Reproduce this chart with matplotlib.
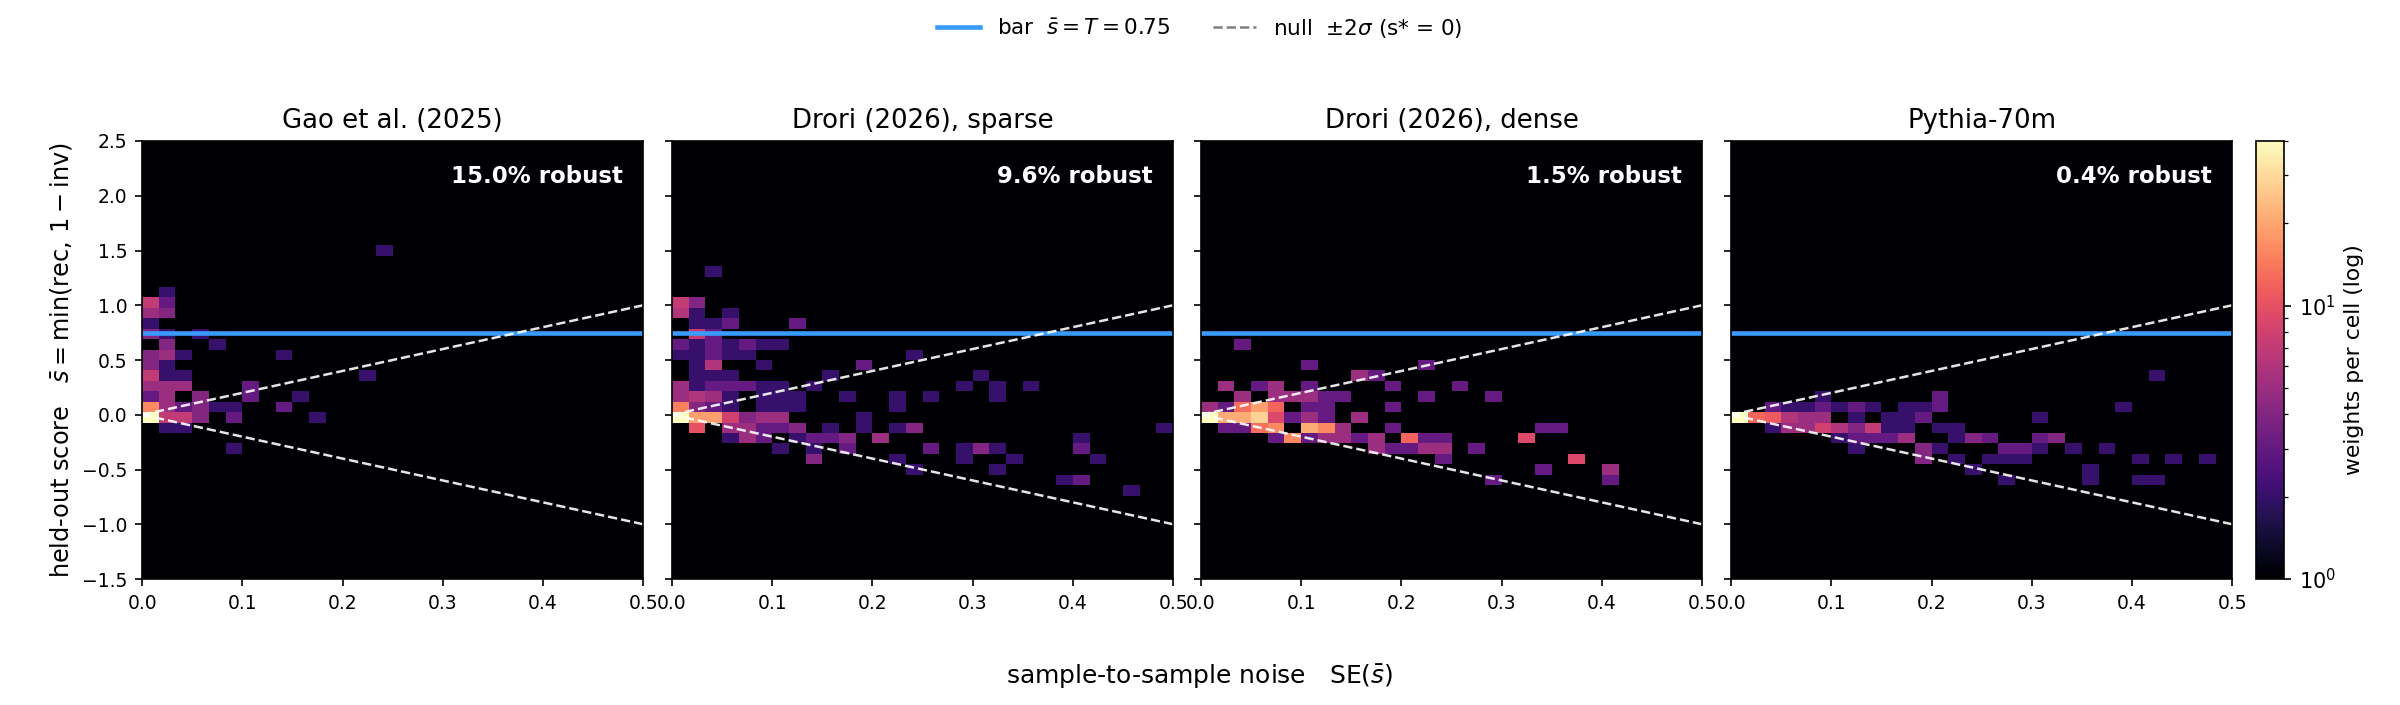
import numpy as np
import matplotlib
matplotlib.use("Agg")
import matplotlib.pyplot as plt
from matplotlib.colors import LogNorm
from matplotlib.lines import Line2D

# panel titles and robust fractions
titles = ["Gao et al. (2025)", "Drori (2026), sparse", "Drori (2026), dense", "Pythia-70m"]
robust_pct = [15.0, 9.6, 1.5, 0.4]

bar_T = 0.75

# one entry per occupied histogram cell: (SE, held-out score, number of weights)
gao_se = [0.242, 0.025, 0.008, 0.025, 0.008, 0.025, 0.008,
          0.008, 0.025, 0.058, 0.025, 0.075,
          0.008, 0.025, 0.042, 0.142, 0.008, 0.025,
          0.008, 0.025, 0.042, 0.225,
          0.008, 0.025, 0.042, 0.108,
          0.008, 0.025, 0.058, 0.108, 0.158,
          0.008, 0.025, 0.042, 0.058, 0.075, 0.092, 0.142,
          0.008, 0.025, 0.042, 0.058, 0.092, 0.175,
          0.025, 0.042, 0.092]
gao_score = [1.50, 1.12, 1.02, 1.02, 0.93, 0.93, 0.83,
             0.74, 0.74, 0.74, 0.64, 0.64,
             0.55, 0.55, 0.55, 0.55, 0.45, 0.45,
             0.36, 0.36, 0.36, 0.36,
             0.26, 0.26, 0.26, 0.26,
             0.17, 0.17, 0.17, 0.17, 0.17,
             0.07, 0.07, 0.07, 0.07, 0.07, 0.07, 0.07,
             -0.02, -0.02, -0.02, -0.02, -0.02, -0.02,
             -0.12, -0.12, -0.31]
gao_n = [2, 2, 7, 3, 5, 4, 2,
         4, 2, 2, 4, 2,
         4, 5, 2, 2, 4, 2,
         7, 2, 2, 2,
         5, 5, 5, 3,
         3, 5, 4, 3, 2,
         16, 5, 3, 4, 2, 2, 3,
         40, 7, 7, 4, 3, 2,
         2, 2, 2]

sparse_se = [0.042,
             0.008, 0.025,
             0.008, 0.025, 0.058,
             0.025, 0.042, 0.058, 0.125,
             0.025, 0.042,
             0.008, 0.025, 0.042, 0.058, 0.075, 0.092, 0.108,
             0.008, 0.025, 0.042, 0.058, 0.075, 0.242,
             0.025, 0.042, 0.092, 0.192,
             0.025, 0.042, 0.058, 0.158, 0.308,
             0.008, 0.025, 0.042, 0.058, 0.075, 0.092, 0.108, 0.142, 0.292, 0.325, 0.358,
             0.008, 0.025, 0.042, 0.058, 0.092, 0.108, 0.125, 0.175, 0.225, 0.258, 0.325,
             0.008, 0.025, 0.042, 0.058, 0.092, 0.108, 0.125, 0.225,
             0.008, 0.025, 0.042, 0.058, 0.075, 0.092, 0.108, 0.192,
             0.025, 0.058, 0.075, 0.092, 0.108, 0.125, 0.158, 0.192, 0.225, 0.242, 0.492,
             0.058, 0.075, 0.092, 0.125, 0.142, 0.158, 0.175, 0.208, 0.408,
             0.108, 0.142, 0.175, 0.258, 0.292, 0.308, 0.325, 0.408,
             0.142, 0.225, 0.292, 0.342, 0.425,
             0.242, 0.325,
             0.392, 0.408,
             0.458]
sparse_score = [1.31,
                1.02, 1.02,
                0.93, 0.93, 0.93,
                0.83, 0.83, 0.83, 0.83,
                0.74, 0.74,
                0.64, 0.64, 0.64, 0.64, 0.64, 0.64, 0.64,
                0.55, 0.55, 0.55, 0.55, 0.55, 0.55,
                0.45, 0.45, 0.45, 0.45,
                0.36, 0.36, 0.36, 0.36, 0.36,
                0.26, 0.26, 0.26, 0.26, 0.26, 0.26, 0.26, 0.26, 0.26, 0.26, 0.26,
                0.17, 0.17, 0.17, 0.17, 0.17, 0.17, 0.17, 0.17, 0.17, 0.17, 0.17,
                0.07, 0.07, 0.07, 0.07, 0.07, 0.07, 0.07, 0.07,
                -0.02, -0.02, -0.02, -0.02, -0.02, -0.02, -0.02, -0.02,
                -0.12, -0.12, -0.12, -0.12, -0.12, -0.12, -0.12, -0.12, -0.12, -0.12, -0.12,
                -0.21, -0.21, -0.21, -0.21, -0.21, -0.21, -0.21, -0.21, -0.21,
                -0.31, -0.31, -0.31, -0.31, -0.31, -0.31, -0.31, -0.31,
                -0.40, -0.40, -0.40, -0.40, -0.40,
                -0.50, -0.50,
                -0.60, -0.60,
                -0.69]
sparse_n = [2,
            7, 4,
            6, 2, 2,
            2, 2, 3, 3,
            7, 3,
            3, 2, 3, 2, 3, 2, 2,
            2, 2, 3, 2, 2, 2,
            2, 6, 2, 3,
            2, 2, 2, 2, 2,
            5, 2, 3, 3, 3, 2, 2, 2, 2, 2, 2,
            5, 6, 5, 2, 2, 2, 2, 2, 2, 2, 2,
            15, 4, 3, 2, 2, 2, 2, 2,
            40, 19, 19, 8, 4, 5, 5, 2,
            10, 5, 5, 3, 3, 4, 2, 2, 2, 4, 2,
            2, 5, 3, 2, 3, 3, 4, 5, 2,
            2, 2, 3, 3, 2, 4, 2, 3,
            4, 2, 2, 2, 2,
            2, 2,
            2, 3,
            2]

dense_se = [0.042,
            0.108, 0.225,
            0.158, 0.175,
            0.025, 0.058, 0.075, 0.108, 0.192, 0.258,
            0.042, 0.075, 0.092, 0.108, 0.125, 0.142, 0.225, 0.292,
            0.008, 0.025, 0.042, 0.058, 0.075, 0.108, 0.125, 0.192,
            0.008, 0.025, 0.042, 0.058, 0.075, 0.092, 0.108, 0.125, 0.158,
            0.025, 0.042, 0.058, 0.075, 0.108, 0.125, 0.142, 0.192, 0.342, 0.358,
            0.075, 0.092, 0.108, 0.125, 0.142, 0.158, 0.175, 0.208, 0.225, 0.242, 0.325,
            0.175, 0.192, 0.208, 0.225, 0.242, 0.275,
            0.242, 0.375,
            0.342, 0.408,
            0.292, 0.408]
dense_score = [0.64,
               0.45, 0.45,
               0.36, 0.36,
               0.26, 0.26, 0.26, 0.26, 0.26, 0.26,
               0.17, 0.17, 0.17, 0.17, 0.17, 0.17, 0.17, 0.17,
               0.07, 0.07, 0.07, 0.07, 0.07, 0.07, 0.07, 0.07,
               -0.02, -0.02, -0.02, -0.02, -0.02, -0.02, -0.02, -0.02, -0.02,
               -0.12, -0.12, -0.12, -0.12, -0.12, -0.12, -0.12, -0.12, -0.12, -0.12,
               -0.21, -0.21, -0.21, -0.21, -0.21, -0.21, -0.21, -0.21, -0.21, -0.21, -0.21,
               -0.31, -0.31, -0.31, -0.31, -0.31, -0.31,
               -0.40, -0.40,
               -0.50, -0.50,
               -0.60, -0.60]
dense_n = [3,
           3, 3,
           5, 3,
           5, 3, 5, 3, 3, 3,
           5, 5, 5, 5, 3, 3, 3, 3,
           5, 3, 13, 19, 12, 3, 3, 3,
           40, 21, 21, 28, 9, 3, 5, 3, 5,
           3, 3, 13, 16, 21, 16, 5, 3, 3, 3,
           3, 16, 3, 5, 5, 3, 5, 12, 3, 3, 9,
           5, 3, 3, 5, 5, 3,
           3, 9,
           3, 5,
           3, 3]

pythia_se = [0.425,
             0.092, 0.208,
             0.042, 0.058, 0.075, 0.092, 0.108, 0.125, 0.142, 0.175, 0.192, 0.208, 0.392,
             0.008, 0.025, 0.042, 0.058, 0.075, 0.092, 0.125, 0.158, 0.175, 0.192, 0.308,
             0.042, 0.058, 0.075, 0.092, 0.108, 0.125, 0.142, 0.158, 0.175, 0.208, 0.225,
             0.108, 0.125, 0.142, 0.158, 0.175, 0.225, 0.242, 0.258, 0.308, 0.325,
             0.125, 0.192, 0.208, 0.275, 0.292, 0.308, 0.342, 0.375,
             0.192, 0.225, 0.258, 0.275, 0.292, 0.408, 0.442, 0.475,
             0.242, 0.358,
             0.275, 0.358, 0.408, 0.425]
pythia_score = [0.36,
                0.17, 0.17,
                0.07, 0.07, 0.07, 0.07, 0.07, 0.07, 0.07, 0.07, 0.07, 0.07, 0.07,
                -0.02, -0.02, -0.02, -0.02, -0.02, -0.02, -0.02, -0.02, -0.02, -0.02, -0.02,
                -0.12, -0.12, -0.12, -0.12, -0.12, -0.12, -0.12, -0.12, -0.12, -0.12, -0.12,
                -0.21, -0.21, -0.21, -0.21, -0.21, -0.21, -0.21, -0.21, -0.21, -0.21,
                -0.31, -0.31, -0.31, -0.31, -0.31, -0.31, -0.31, -0.31,
                -0.40, -0.40, -0.40, -0.40, -0.40, -0.40, -0.40, -0.40,
                -0.50, -0.50,
                -0.60, -0.60, -0.60, -0.60]
pythia_n = [2,
            2, 3,
            3, 2, 2, 3, 2, 3, 2, 2, 2, 3, 2,
            40, 12, 11, 6, 5, 5, 2, 2, 2, 3, 2,
            2, 5, 5, 8, 6, 4, 7, 2, 2, 2, 2,
            2, 3, 3, 3, 5, 2, 4, 3, 3, 4,
            2, 4, 2, 3, 3, 2, 2, 2,
            4, 2, 2, 2, 2, 2, 2, 2,
            2, 2,
            2, 2, 2, 2]

panels = [(gao_se, gao_score, gao_n),
          (sparse_se, sparse_score, sparse_n),
          (dense_se, dense_score, dense_n),
          (pythia_se, pythia_score, pythia_n)]

se_edges = np.linspace(0, 0.5, 31)
score_edges = np.linspace(-1.5, 2.5, 43)
se_line = np.array([0.0, 0.5])

bar_color = "#3a9bff"

fig = plt.figure(figsize=(16, 4.7), dpi=150)
lefts = [0.0592, 0.2800, 0.5004, 0.7213]
norm = LogNorm(vmin=1, vmax=40)

axes = []
for k, (se, score, n) in enumerate(panels):
    ax = fig.add_axes([lefts[k], 0.1787, 0.2088, 0.6213])
    ax.set_facecolor(plt.cm.magma(0))
    _, _, _, im = ax.hist2d(se, score, bins=[se_edges, score_edges], weights=n,
                            cmap="magma", norm=norm)
    ax.axhline(bar_T, color=bar_color, lw=2.2)
    ax.plot(se_line, 2 * se_line, ls="--", color="white", lw=1.2, alpha=0.9)
    ax.plot(se_line, -2 * se_line, ls="--", color="white", lw=1.2, alpha=0.9)
    ax.set_xlim(0, 0.5)
    ax.set_ylim(-1.5, 2.5)
    ax.set_xticks([0.0, 0.1, 0.2, 0.3, 0.4, 0.5])
    ax.set_yticks(np.arange(-1.5, 2.51, 0.5))
    ax.tick_params(labelsize=9)
    if k > 0:
        ax.set_yticklabels([])
    ax.set_title(titles[k], fontsize=12.5)
    ax.text(0.96, 0.92, f"{robust_pct[k]:.1f}% robust", transform=ax.transAxes,
            ha="right", va="center", color="white", fontsize=11, fontweight="bold")
    axes.append(ax)

axes[0].set_ylabel(r"held-out score   $\bar{s} = \min(\mathrm{rec},\, 1-\mathrm{inv})$",
                   fontsize=11.5)
fig.supxlabel(r"sample-to-sample noise   SE($\bar{s}$)", fontsize=12, y=0.02)

cax = fig.add_axes([0.9400, 0.1787, 0.0117, 0.6213])
cb = fig.colorbar(im, cax=cax)
cb.set_label("weights per cell (log)", fontsize=10.5)
cb.ax.tick_params(labelsize=10)

handles = [Line2D([], [], color=bar_color, lw=2.2),
           Line2D([], [], color="gray", lw=1.2, ls="--")]
labels = [r"bar  $\bar{s} = T = 0.75$", r"null  $\pm 2\sigma$ (s* = 0)"]
fig.legend(handles, labels, loc="center", bbox_to_anchor=(0.5, 0.96), ncol=2,
           frameon=False, fontsize=10.3)

fig.savefig("out.png", dpi=150)
